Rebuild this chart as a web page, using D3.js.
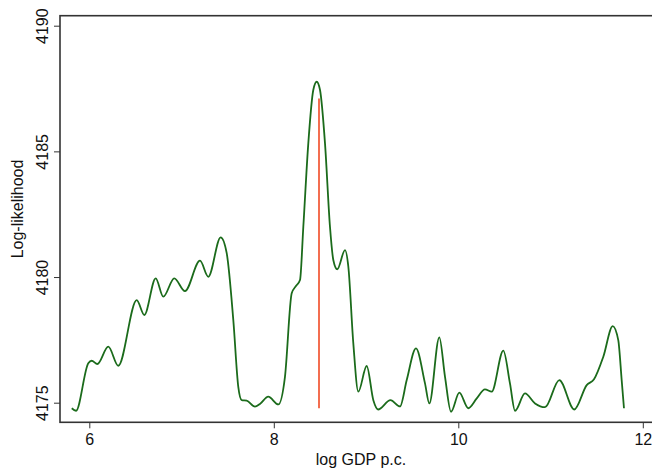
<!DOCTYPE html>
<html lang="en">
<head>
    <meta charset="UTF-8">
    <script src="https://cdnjs.cloudflare.com/ajax/libs/d3/7.8.5/d3.min.js"></script>
    <title>Log-likelihood profile</title>
<style>
    body{
        margin: 0;
        background: #fff;
        font-family: 'Liberation Sans', Arial, Helvetica, sans-serif;
    }
    .tick-label{ font-size: 16px; fill: #111; }
    .axis-title{ font-size: 16px; fill: #111; }
</style>
</head>
<body>
<svg id="chart"></svg>
<script>
    // profile log-likelihood over threshold (log GDP p.c.)
    const gdp = [5.81, 5.856, 5.989, 6.026, 6.087, 6.206, 6.314, 6.514, 6.596, 6.72,
        6.802, 6.921, 7.037, 7.2, 7.29, 7.424, 7.489, 7.561, 7.615, 7.652,
        7.706, 7.796, 7.85, 7.94, 8.049, 8.121, 8.194, 8.24, 8.284, 8.32,
        8.374, 8.428, 8.465, 8.501, 8.555, 8.609, 8.645, 8.688, 8.772, 8.808,
        8.862, 8.916, 9.007, 9.079, 9.13, 9.265, 9.368, 9.441, 9.541, 9.639,
        9.686, 9.794, 9.856, 9.921, 10.011, 10.108, 10.2, 10.289, 10.362, 10.488,
        10.56, 10.615, 10.723, 10.832, 10.94, 11.095, 11.257, 11.392, 11.471, 11.572,
        11.674, 11.734, 11.771, 11.796]
    const loglik = [4174.78, 4174.68, 4176.57, 4176.67, 4176.54, 4177.23, 4176.47, 4179.08, 4178.49, 4179.95,
        4179.22, 4179.95, 4179.44, 4180.65, 4180.01, 4181.58, 4180.96, 4178.29, 4175.63, 4175.1,
        4175.08, 4174.84, 4174.95, 4175.24, 4174.93, 4176.03, 4179.35, 4179.64, 4179.88, 4182.0,
        4185.32, 4187.44, 4187.77, 4187.44, 4185.32, 4182.0, 4180.68, 4180.31, 4181.07, 4180.41,
        4177.36, 4175.44, 4176.46, 4175.1, 4174.73, 4175.1, 4174.85, 4175.9, 4177.16, 4175.77,
        4174.97, 4177.6, 4176.03, 4174.64, 4175.4, 4174.78, 4175.17, 4175.53, 4175.44, 4177.07,
        4175.77, 4174.68, 4175.37, 4174.97, 4174.82, 4175.9, 4174.73, 4175.7, 4175.93, 4176.83,
        4178.05, 4177.49, 4175.9, 4174.78]

    // estimated threshold (vertical segment)
    const threshold = 8.49
    const segment = [4174.78, 4187.1]

    const xTicks = [6, 8, 10, 12]
    const yTicks = [4175, 4180, 4185, 4190]

    const W = 652, H = 470
    const box = {left: 60, top: 15.7, bottom: 422.3, right: 670}

    const svg = d3.select('#chart')
        .attr('width', W)
        .attr('height', H)

    const x = d3.scaleLinear()
        .domain([6, 10])
        .range([89.3, 458.3])
    const y = d3.scaleLinear()
        .domain([4175, 4190])
        .range([402.7, 25.7])

    // plot box (right edge falls outside the picture)
    svg.append('rect')
        .attr('x', box.left)
        .attr('y', box.top)
        .attr('width', box.right - box.left)
        .attr('height', box.bottom - box.top)
        .attr('fill', 'none')
        .attr('stroke', '#333')
        .attr('stroke-width', 1.6)

    // x axis
    const xAxis = svg.append('g')
        .attr('transform', 'translate(0,' + box.bottom + ')')
        .call(d3.axisBottom(x).tickValues(xTicks).tickSize(6).tickPadding(5).tickFormat(d3.format('d')))
    xAxis.select('.domain').remove()
    xAxis.selectAll('line').attr('stroke', '#333')
    xAxis.selectAll('text').attr('class', 'tick-label')
    xAxis.attr('font-size', null).attr('font-family', null)

    // y axis, labels turned like base R
    const yAxis = svg.append('g')
        .attr('transform', 'translate(' + box.left + ',0)')
        .call(d3.axisLeft(y).tickValues(yTicks).tickSize(6).tickFormat(d3.format('d')))
    yAxis.select('.domain').remove()
    yAxis.attr('font-size', null).attr('font-family', null)
    yAxis.selectAll('line').attr('stroke', '#333')
    yAxis.selectAll('text')
        .attr('class', 'tick-label')
        .attr('x', null)
        .attr('dy', null)
        .attr('text-anchor', 'middle')
        .attr('dominant-baseline', 'central')
        .attr('transform', 'translate(-18,0) rotate(-90)')

    // axis titles
    svg.append('text')
        .attr('class', 'axis-title')
        .attr('x', 361)
        .attr('y', 465)
        .attr('text-anchor', 'middle')
        .text('log GDP p.c.')

    svg.append('text')
        .attr('class', 'axis-title')
        .attr('transform', 'translate(23,209) rotate(-90)')
        .attr('text-anchor', 'middle')
        .text('Log-likelihood')

    // likelihood curve
    const line = d3.line()
        .x((d, i) => x(gdp[i]))
        .y(d => y(d))
        .curve(d3.curveMonotoneX)

    svg.append('path')
        .datum(loglik)
        .attr('d', line)
        .attr('fill', 'none')
        .attr('stroke', '#1b6b1b')
        .attr('stroke-width', 1.8)

    // threshold marker
    svg.append('line')
        .attr('x1', x(threshold))
        .attr('x2', x(threshold))
        .attr('y1', y(segment[0]))
        .attr('y2', y(segment[1]))
        .attr('stroke', '#f04a25')
        .attr('stroke-width', 1.6)
</script>
</body>
</html>
